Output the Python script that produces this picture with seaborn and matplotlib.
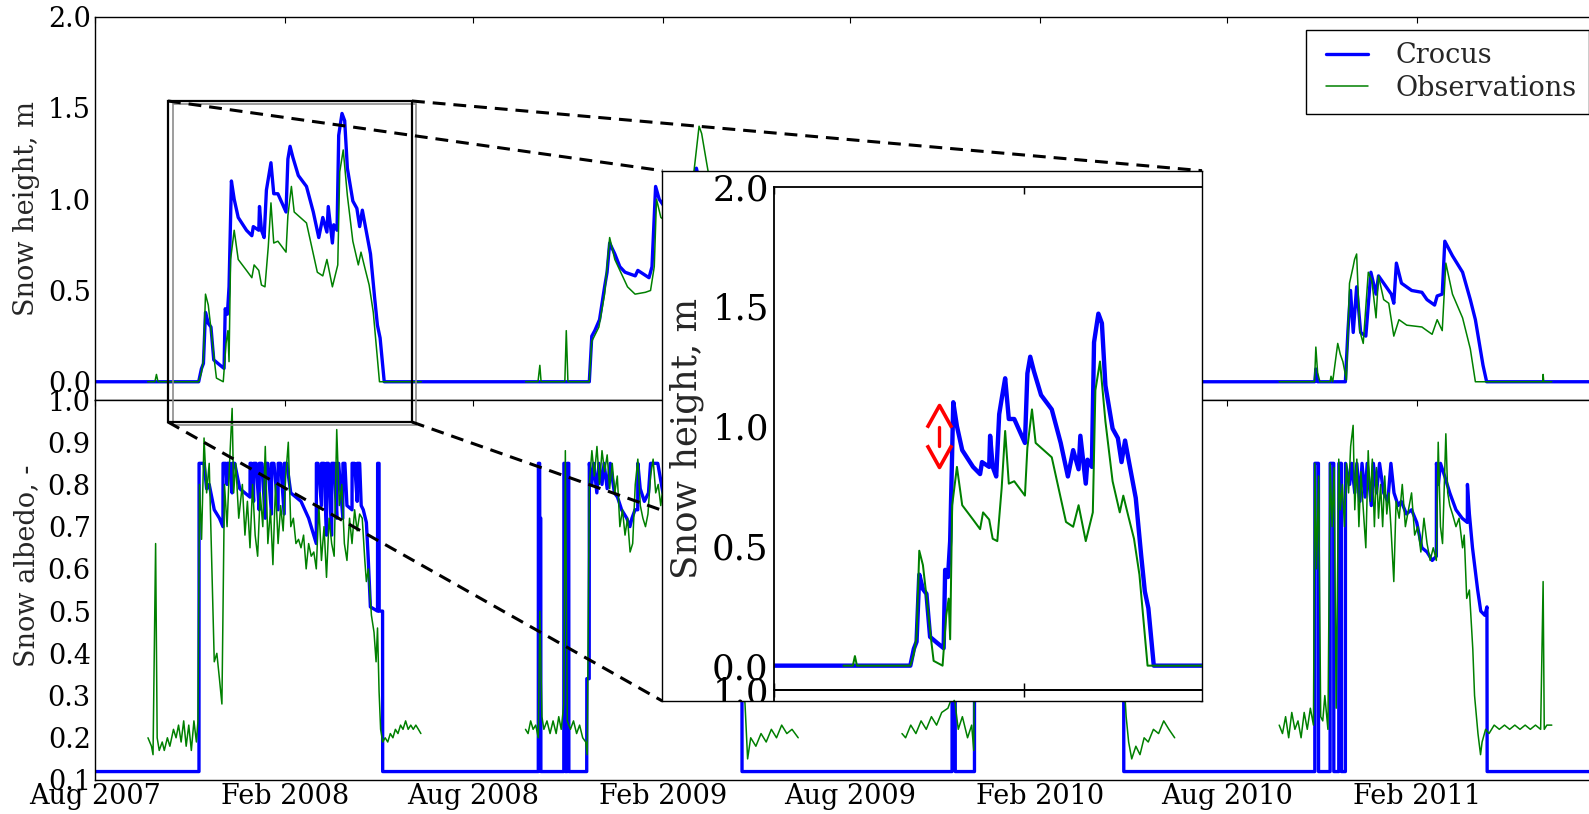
import numpy as np
import pandas as pd
import matplotlib
matplotlib.use("Agg")
import matplotlib.pyplot as plt
import matplotlib.dates as mdates
from matplotlib.lines import Line2D
from matplotlib.patches import Rectangle
from matplotlib.path import Path
from matplotlib.ticker import FixedLocator, FormatStrFormatter
from matplotlib.legend_handler import HandlerLine2D
import seaborn as sns

# ---------------------------------------------------------------- data
START = pd.Timestamp("2007-08-01")   # day 0 of all series
END_DAY = 1460                       # last day shown (31 Jul 2011)

series_names = ["Crocus", "Observations"]

# Crocus snow height (m): (days since 1 Aug 2007, value)
crocus_hs_0708 = [(0, 0), (100.4, 0), (103, 0.07), (105, 0.10), (107, 0.38), (109.7, 0.32), (112.3, 0.30),
                  (115, 0.12), (120.2, 0.095), (125, 0.073), (126.1, 0.40), (128.2, 0.37), (129.8, 0.52),
                  (132.1, 1.10), (134.8, 1.00), (138.7, 0.90), (146.7, 0.83), (151.9, 0.80), (153.3, 0.85),
                  (158.6, 0.83), (159.3, 0.96), (161.2, 0.83), (163.8, 0.79), (166.0, 1.05), (168.3, 1.13),
                  (170.4, 1.20), (173.1, 1.03), (177.1, 1.03), (185.0, 0.93), (186.8, 1.22), (188.9, 1.29),
                  (191.6, 1.23), (196.9, 1.13), (204.8, 1.07), (211.4, 0.93), (216.7, 0.79), (220.6, 0.90),
                  (224.6, 0.82), (225.9, 0.96), (229.9, 0.76), (231.2, 0.86), (234.4, 0.83), (236.0, 1.35),
                  (239.2, 1.47), (241.8, 1.43), (244.4, 1.17), (249.7, 0.99), (253.6, 0.95), (256.3, 0.85),
                  (258.9, 0.94), (261.5, 0.86), (266.8, 0.70), (270.8, 0.46), (273.5, 0.31), (276.1, 0.24),
                  (280.1, 0)]
crocus_hs_0809 = [(478.7, 0), (481.1, 0.25), (484, 0.28), (488.6, 0.34), (493.5, 0.52), (495.9, 0.60),
                  (498.4, 0.76), (503.4, 0.70), (508.3, 0.63), (513.3, 0.60), (523.2, 0.58), (525.7, 0.61),
                  (536.5, 0.57), (539.4, 0.63), (542.9, 1.07), (546.4, 1.00), (555, 0.93), (565, 0.96),
                  (572, 0.90), (578, 1.02), (582.4, 1.17), (586, 1.08), (595, 0.96), (605, 0.80), (615, 0.55),
                  (622, 0.25), (626.5, 0)]
crocus_hs_0910 = [(830, 0), (831.5, 0.05), (833, 0), (851.7, 0), (856, 0.30), (862, 0.55), (870, 0.70),
                  (885, 0.65), (900, 0.85), (915, 0.80), (930, 0.95), (945, 0.90), (960, 0.80), (975, 0.60),
                  (988, 0.30), (996.3, 0)]
crocus_hs_1011 = [(1181.3, 0), (1182.3, 0.07), (1184, 0), (1210.9, 0), (1213.4, 0.28), (1215.9, 0.50),
                  (1218.5, 0.27), (1221.8, 0.52), (1225.7, 0.27), (1230.7, 0.25), (1235.6, 0.60), (1240.6, 0.48),
                  (1243.0, 0.58), (1248.0, 0.54), (1255.4, 0.48), (1257.8, 0.43), (1260.3, 0.65), (1265.2, 0.54),
                  (1275.1, 0.50), (1285.0, 0.49), (1289.9, 0.45), (1297.3, 0.42), (1299.8, 0.47), (1304.7, 0.48),
                  (1307.2, 0.77), (1314.6, 0.69), (1324.4, 0.60), (1331.9, 0.45), (1336.8, 0.34), (1344.2, 0.09),
                  (1347.7, 0), (1460, 0)]

# Observed snow height (m), one list per measuring season
obs_hs_0708 = [(51, 0), (58, 0), (59.5, 0.04), (61, 0), (100.4, 0), (103, 0.05), (105, 0.12), (107, 0.48),
               (109.7, 0.42), (112.3, 0.29), (115.5, 0.12), (117.6, 0.02), (124.2, 0), (126.9, 0.21),
               (128.7, 0.28), (129.8, 0.11), (131.3, 0.67), (134.8, 0.83), (138.7, 0.67), (146.7, 0.61),
               (151.9, 0.57), (154.1, 0.64), (158.6, 0.61), (161.2, 0.53), (164.6, 0.52), (167.8, 0.74),
               (170.4, 0.98), (173.1, 0.76), (177.1, 0.77), (185.0, 0.71), (186.8, 0.91), (190.2, 1.07),
               (192.9, 0.93), (204.8, 0.87), (215.3, 0.60), (220.6, 0.58), (224.6, 0.67), (229.9, 0.52),
               (232.5, 0.58), (235.1, 0.64), (237.0, 1.15), (240.4, 1.27), (244.4, 1.02), (249.7, 0.77),
               (255.0, 0.64), (257.6, 0.71), (261.5, 0.62), (265.5, 0.53), (269.5, 0.38), (275.5, 0), (316, 0)]
obs_hs_0809 = [(417, 0), (429, 0), (430.8, 0.09), (432, 0), (455, 0), (456.4, 0.28), (458, 0), (478.7, 0),
               (481, 0.22), (488, 0.30), (493.5, 0.48), (498.4, 0.79), (503.4, 0.67), (515.7, 0.52), (523, 0.48),
               (533, 0.49), (538, 0.50), (541.6, 0.63), (543.8, 1.00), (548, 0.90), (560, 0.85), (570, 0.90),
               (580, 1.15), (585, 1.40), (587.5, 1.36), (592.3, 1.20), (600, 0.95), (610, 0.70), (618, 0.40),
               (624, 0.10), (627, 0), (681, 0)]
obs_hs_0910 = [(781.5, 0), (830, 0), (831, 0.04), (833, 0), (851.7, 0), (856, 0.25), (862, 0.45), (870, 0.55),
               (885, 0.50), (900, 0.70), (915, 0.62), (930, 0.75), (945, 0.68), (960, 0.60), (975, 0.40),
               (985, 0.15), (992, 0), (1045.6, 0)]
obs_hs_1011 = [(1146.8, 0), (1181, 0), (1182.3, 0.19), (1184, 0.05), (1186.2, 0), (1196.1, 0), (1197, 0.03),
               (1198.6, 0), (1203.5, 0.21), (1206, 0.15), (1208.5, 0.11), (1211.9, 0.01), (1214.9, 0.54),
               (1218.4, 0.63), (1219.8, 0.67), (1221.8, 0.70), (1224.8, 0.28), (1228.2, 0.21), (1233.1, 0.60),
               (1236.6, 0.55), (1240.6, 0.35), (1243, 0.58), (1248, 0.45), (1252.9, 0.43), (1257.8, 0.25),
               (1262.8, 0.34), (1270.3, 0.31), (1285, 0.30), (1289.9, 0.28), (1294.9, 0.26), (1299.8, 0.34),
               (1304.7, 0.28), (1308.2, 0.65), (1314.6, 0.48), (1324.4, 0.35), (1331.9, 0.18), (1336.8, 0),
               (1402, 0), (1402.4, 0.04), (1403, 0), (1410.8, 0)]

# Crocus snow albedo (-)
crocus_alb_0708 = [(0, 0.12), (100.7, 0.12), (100.8, 0.85), (105.6, 0.85), (108.1, 0.79), (110.6, 0.80),
                   (115.5, 0.74), (120.5, 0.72), (123.9, 0.70), (124.0, 0.85), (126.5, 0.85), (127.9, 0.80),
                   (128.0, 0.85), (130.3, 0.85), (132.8, 0.78), (132.9, 0.85), (135.3, 0.85), (140.2, 0.79),
                   (150.1, 0.77), (150.2, 0.85), (151.6, 0.85), (153.6, 0.76), (153.7, 0.85), (156.0, 0.85),
                   (159.0, 0.74), (159.1, 0.85), (161.5, 0.85), (164.9, 0.72), (165.0, 0.85), (167.4, 0.85),
                   (170.9, 0.73), (171.0, 0.85), (173.3, 0.85), (177.3, 0.74), (177.4, 0.85), (179.8, 0.85),
                   (183.2, 0.73), (183.3, 0.85), (185.7, 0.85), (189.6, 0.78), (199.5, 0.76), (206.9, 0.72),
                   (214.3, 0.66), (214.4, 0.85), (216.0, 0.85), (219.3, 0.75), (219.4, 0.85), (221.8, 0.85),
                   (224.2, 0.68), (224.3, 0.85), (226.0, 0.85), (229.2, 0.68), (229.3, 0.85), (231.6, 0.85),
                   (234.1, 0.72), (234.2, 0.85), (236.0, 0.85), (240.0, 0.72), (240.1, 0.85), (242.0, 0.85),
                   (244.0, 0.75), (248.9, 0.74), (249.0, 0.85), (251.4, 0.85), (253.9, 0.76), (254.0, 0.85),
                   (256.3, 0.85), (257.8, 0.75), (259.8, 0.74), (262.8, 0.71), (264.7, 0.62), (266.7, 0.51),
                   (273.6, 0.50), (273.7, 0.85), (275.1, 0.85), (275.2, 0.50), (278.5, 0.50), (278.6, 0.12)]
crocus_alb_0809 = [(429.3, 0.12), (429.4, 0.85), (430.6, 0.85), (430.7, 0.72), (431.7, 0.72), (431.8, 0.12),
                   (454.0, 0.12), (454.1, 0.85), (455.5, 0.85), (455.6, 0.12), (457.4, 0.12), (457.5, 0.85),
                   (458.8, 0.85), (458.9, 0.12), (476.2, 0.12), (476.3, 0.34), (478.6, 0.34), (478.7, 0.85),
                   (481, 0.80), (483, 0.85), (486, 0.78), (488, 0.85), (491, 0.80), (493, 0.85), (496, 0.79),
                   (499, 0.85), (503, 0.78), (506, 0.77), (510, 0.74), (515, 0.72), (518, 0.70), (520, 0.72),
                   (523, 0.74), (525.6, 0.74), (525.7, 0.85), (528, 0.79), (532, 0.76), (536, 0.78), (538, 0.85),
                   (545, 0.85), (550, 0.78), (560, 0.80), (570, 0.85), (580, 0.78), (590, 0.85), (600, 0.75),
                   (610, 0.70), (620, 0.60), (626.5, 0.50), (626.6, 0.12)]
crocus_alb_0910 = [(830, 0.12), (830.1, 0.85), (833, 0.85), (833.1, 0.12), (851.7, 0.12), (851.8, 0.85),
                   (870, 0.80), (900, 0.85), (930, 0.80), (960, 0.75), (980, 0.65), (996.2, 0.55), (996.3, 0.12)]
crocus_alb_1011 = [(1181.3, 0.12), (1181.4, 0.85), (1184.8, 0.85), (1184.9, 0.12), (1196.1, 0.12),
                   (1196.2, 0.85), (1199.6, 0.85), (1199.7, 0.12), (1204.5, 0.12), (1204.6, 0.85), (1207.0, 0.85),
                   (1207.1, 0.12), (1210.9, 0.12), (1211.0, 0.85), (1215, 0.80), (1217, 0.85), (1220, 0.78),
                   (1222, 0.85), (1225, 0.76), (1227, 0.85), (1230, 0.77), (1232, 0.85), (1236, 0.75),
                   (1238, 0.85), (1241, 0.78), (1244, 0.85), (1248, 0.78), (1252, 0.76), (1255, 0.85),
                   (1258, 0.78), (1262, 0.75), (1265, 0.76), (1270, 0.73), (1275, 0.74), (1280, 0.71),
                   (1285, 0.65), (1290, 0.64), (1295, 0.62), (1299, 0.63), (1299.1, 0.85), (1301, 0.80),
                   (1303, 0.85), (1307, 0.82), (1312, 0.78), (1318, 0.74), (1324, 0.72), (1329, 0.71),
                   (1329.1, 0.80), (1331, 0.73), (1334, 0.65), (1339, 0.55), (1342, 0.50), (1346, 0.49),
                   (1348, 0.51), (1348.2, 0.12), (1460, 0.12)]

# Observed snow albedo (-), one list per measuring season
obs_alb_0708 = [(51.3, 0.20), (54.7, 0.18), (56.2, 0.16), (58.7, 0.66), (60.2, 0.20), (62.2, 0.17), (65.1, 0.19),
                (67.1, 0.17), (70.1, 0.20), (72.5, 0.18), (76.0, 0.22), (78.5, 0.20), (80.9, 0.23), (83.4, 0.19),
                (85.9, 0.24), (88.3, 0.18), (90.8, 0.23), (93.3, 0.17), (95.8, 0.24), (98.2, 0.19), (99.7, 0.24),
                (101.2, 0.80), (103.2, 0.67), (105.6, 0.91), (108.1, 0.78), (110.6, 0.85), (113.1, 0.61),
                (115.5, 0.38), (118.0, 0.40), (120.5, 0.34), (122.9, 0.28), (125.4, 0.80), (127.9, 0.70),
                (130.3, 0.85), (132.8, 0.98), (134.3, 0.78), (136.3, 0.85), (139.2, 0.72), (142.7, 0.80),
                (145.2, 0.68), (147.6, 0.76), (150.1, 0.65), (152.6, 0.80), (155.1, 0.68), (157.5, 0.63),
                (160.0, 0.78), (162.5, 0.70), (164.9, 0.89), (167.4, 0.66), (169.9, 0.74), (172.3, 0.61),
                (174.8, 0.80), (177.3, 0.66), (179.8, 0.75), (182.2, 0.69), (184.7, 0.82), (187.2, 0.90),
                (189.6, 0.70), (192.1, 0.72), (194.6, 0.66), (197.1, 0.67), (199.5, 0.65), (202.0, 0.68),
                (204.5, 0.60), (206.9, 0.66), (209.4, 0.63), (211.9, 0.64), (214.3, 0.60), (216.8, 0.75),
                (219.3, 0.62), (221.8, 0.70), (224.2, 0.58), (226.7, 0.72), (229.2, 0.66), (231.6, 0.63),
                (234.1, 0.93), (236.6, 0.75), (239.0, 0.80), (241.5, 0.66), (244.0, 0.62), (246.5, 0.72),
                (248.9, 0.66), (251.4, 0.74), (253.9, 0.69), (256.3, 0.73), (258.8, 0.72), (261.3, 0.62),
                (262.8, 0.57), (264.7, 0.60), (267.7, 0.49), (270.2, 0.45), (272.2, 0.38), (273.6, 0.46),
                (275.1, 0.31), (276.6, 0.22), (278.6, 0.19), (281.0, 0.20), (283.5, 0.19), (286.0, 0.21),
                (288.5, 0.20), (290.9, 0.22), (293.4, 0.21), (295.9, 0.23), (298.3, 0.22), (300.8, 0.24),
                (303.3, 0.22), (305.8, 0.23), (308.2, 0.22), (310.7, 0.23), (313.2, 0.22), (315.6, 0.21)]
obs_alb_0809 = [(416.9, 0.22), (419.4, 0.21), (421.9, 0.24), (424.3, 0.22), (426.8, 0.23), (429.3, 0.20),
                (430.8, 0.50), (432.8, 0.25), (434.7, 0.22), (437.7, 0.24), (440.7, 0.21), (443.6, 0.24),
                (446.6, 0.21), (449.1, 0.25), (451.5, 0.22), (454.0, 0.28), (455.5, 0.88), (457.4, 0.24),
                (460.4, 0.22), (463.4, 0.24), (466.4, 0.21), (469.3, 0.23), (472.3, 0.20), (475.2, 0.19),
                (476.7, 0.16), (478.7, 0.80), (481.2, 0.88), (483.6, 0.82), (486.1, 0.89), (488.6, 0.80),
                (491.0, 0.88), (493.5, 0.83), (496.0, 0.87), (498.4, 0.79), (500.9, 0.85), (503.4, 0.78),
                (505.8, 0.82), (508.3, 0.70), (510.8, 0.74), (513.3, 0.68), (515.7, 0.72), (518.2, 0.64),
                (520.7, 0.66), (523.2, 0.80), (525.7, 0.86), (528.1, 0.75), (530.6, 0.72), (533.1, 0.70),
                (535.5, 0.73), (538.0, 0.82), (540.5, 0.86), (543.0, 0.78), (545.4, 0.80), (547.9, 0.75),
                (550.3, 0.80), (560, 0.78), (570, 0.82), (580, 0.75), (590, 0.80), (600, 0.70), (610, 0.65),
                (620, 0.55), (626, 0.40), (629.5, 0.28), (632, 0.15), (635, 0.20), (640, 0.18), (645, 0.21),
                (650, 0.19), (655, 0.22), (660, 0.20), (665, 0.23), (670, 0.21), (675, 0.22), (681, 0.20)]
obs_alb_0910 = [(781.5, 0.21), (785, 0.20), (790, 0.23), (795, 0.21), (800, 0.24), (805, 0.22), (810, 0.25),
                (815, 0.23), (820, 0.26), (826, 0.27), (829, 0.29), (830, 0.60), (833, 0.28), (836, 0.22),
                (840, 0.25), (845, 0.20), (849, 0.23), (851, 0.17), (853, 0.80), (870, 0.78), (900, 0.82),
                (930, 0.75), (960, 0.72), (985, 0.60), (995, 0.40), (998.6, 0.25), (1001, 0.19), (1004, 0.15),
                (1008, 0.18), (1012, 0.16), (1016, 0.20), (1020, 0.19), (1025, 0.22), (1030, 0.21),
                (1035, 0.24), (1040, 0.22), (1045.6, 0.20)]
obs_alb_1011 = [(1146.8, 0.23), (1150, 0.21), (1153, 0.25), (1156, 0.20), (1159, 0.26), (1162, 0.22),
                (1165, 0.24), (1168, 0.20), (1171, 0.26), (1174, 0.22), (1177, 0.27), (1180, 0.23),
                (1181.3, 0.85), (1183, 0.60), (1185, 0.82), (1187, 0.25), (1189, 0.24), (1191, 0.30),
                (1194, 0.22), (1196.1, 0.85), (1198, 0.70), (1200, 0.84), (1202, 0.27), (1204.5, 0.86),
                (1206, 0.74), (1208, 0.80), (1210, 0.70), (1212, 0.85), (1214, 0.78), (1216, 0.89),
                (1218.4, 0.94), (1220, 0.74), (1222, 0.86), (1224, 0.70), (1226, 0.83), (1228, 0.75),
                (1230.7, 0.65), (1233, 0.88), (1235, 0.76), (1237, 0.86), (1239, 0.70), (1241, 0.84),
                (1243, 0.72), (1245, 0.80), (1247, 0.70), (1249, 0.82), (1251, 0.73), (1253, 0.78),
                (1255, 0.70), (1257.8, 0.57), (1260, 0.76), (1263, 0.72), (1266, 0.80), (1269, 0.70),
                (1272, 0.74), (1275, 0.78), (1278, 0.68), (1281, 0.70), (1284, 0.64), (1287, 0.72),
                (1290, 0.66), (1293, 0.62), (1296, 0.65), (1299, 0.62), (1300.8, 0.90), (1303, 0.70),
                (1305, 0.66), (1308.2, 0.92), (1310, 0.78), (1312, 0.75), (1314.6, 0.73), (1318, 0.70),
                (1321, 0.72), (1324.4, 0.65), (1326, 0.68), (1328.4, 0.53), (1331, 0.55), (1334.3, 0.41),
                (1336, 0.30), (1339.3, 0.21), (1341.8, 0.16), (1343.3, 0.19), (1346.7, 0.22), (1350, 0.21),
                (1355, 0.23), (1360, 0.22), (1365, 0.23), (1370, 0.22), (1375, 0.23), (1380, 0.22),
                (1385, 0.23), (1390, 0.22), (1395, 0.23), (1400, 0.22), (1402.4, 0.57), (1403.5, 0.22),
                (1406, 0.23), (1410.8, 0.23)]

# axis ticks
xtick_dates = ["2007-08-01", "2008-02-01", "2008-08-01", "2009-02-01",
               "2009-08-01", "2010-02-01", "2010-08-01", "2011-02-01"]
xtick_labels = ["Aug 2007", "Feb 2008", "Aug 2008", "Feb 2009",
                "Aug 2009", "Feb 2010", "Aug 2010", "Feb 2011"]
hs_ticks = [0.0, 0.5, 1.0, 1.5, 2.0]
alb_ticks = [0.1, 0.2, 0.3, 0.4, 0.5, 0.6, 0.7, 0.8, 0.9, 1.0]

# red double arrow in the zoom (day, low value, high value)
arrow_day, arrow_low, arrow_high = 121.5, 0.83, 1.09

# ---------------------------------------------------------------- helpers
def to_df(seasons):
    rows = []
    for seg, pairs in enumerate(seasons):
        for d, v in pairs:
            rows.append((START + pd.Timedelta(days=d), v, seg))
    return pd.DataFrame(rows, columns=["date", "val", "seg"])

crocus_hs = to_df([crocus_hs_0708 + crocus_hs_0809 + crocus_hs_0910 + crocus_hs_1011])
obs_hs = to_df([obs_hs_0708, obs_hs_0809, obs_hs_0910, obs_hs_1011])
crocus_alb = to_df([crocus_alb_0708 + crocus_alb_0809 + crocus_alb_0910 + crocus_alb_1011])
obs_alb = to_df([obs_alb_0708, obs_alb_0809, obs_alb_0910, obs_alb_1011])

BLUE = "#0000ff"
GREEN = "#008000"

sns.set_style("white")
plt.rcParams["font.family"] = ["DejaVu Serif"]
plt.rcParams["axes.linewidth"] = 1.0
plt.rcParams["axes.edgecolor"] = "black"

W, H, DPI = 1589, 814, 100
fig = plt.figure(figsize=(W / DPI, H / DPI), dpi=DPI)
fig.patch.set_facecolor("white")


def rect_px(left, top, right, bottom):
    return [left / W, 1 - bottom / H, (right - left) / W, (bottom - top) / H]


def fpt(x, y):
    return (x / W, 1 - y / H)


def draw_lines(ax, croc, obs, scale):
    sns.lineplot(data=croc, x="date", y="val", units="seg", estimator=None, sort=False,
                 color=BLUE, linewidth=2.4 * scale, ax=ax, legend=False)
    sns.lineplot(data=obs, x="date", y="val", units="seg", estimator=None, sort=False,
                 color=GREEN, linewidth=1.1 * scale, ax=ax, legend=False)
    ax.set_xlabel("")
    ax.set_ylabel("")


def style(ax, fs, scale, pad):
    for s in ax.spines.values():
        s.set_linewidth(1.0 * scale)
        s.set_color("black")
    ax.tick_params(direction="in", length=4 * scale, width=0.8 * scale, top=True, right=True,
                   labelsize=fs, pad=pad, colors="black")


tick_nums = mdates.date2num(pd.to_datetime(xtick_dates))
x0 = mdates.date2num(START)
x1 = mdates.date2num(START + pd.Timedelta(days=END_DAY))

# ---------------------------------------------------------------- main axes
PXD = 1.0326                      # pixels per day in main axes
AXL = 95
AXR = AXL + END_DAY * PXD
FS = 19.5

ax_hs = fig.add_axes(rect_px(AXL, 16.7, AXR, 400))
ax_alb = fig.add_axes(rect_px(AXL, 400, AXR, 780))

draw_lines(ax_hs, crocus_hs, obs_hs, 1.0)
draw_lines(ax_alb, crocus_alb, obs_alb, 1.0)

for ax in (ax_hs, ax_alb):
    ax.set_xlim(x0, x1)
    ax.xaxis.set_major_locator(FixedLocator(tick_nums))
    style(ax, FS, 1.0, 3.0)

ax_hs.set_ylim(-0.1, 2.0)
ax_hs.yaxis.set_major_locator(FixedLocator(hs_ticks))
ax_hs.yaxis.set_major_formatter(FormatStrFormatter("%.1f"))
ax_hs.tick_params(labelbottom=False)
ax_hs.set_ylabel("Snow height, m", fontsize=FS)
ax_hs.yaxis.set_label_coords(-0.0366, 0.5)

ax_alb.set_ylim(0.1, 1.0)
ax_alb.yaxis.set_major_locator(FixedLocator(alb_ticks))
ax_alb.yaxis.set_major_formatter(FormatStrFormatter("%.1f"))
ax_alb.set_xticklabels(xtick_labels)
ax_alb.tick_params(axis="x", pad=2.5)
ax_alb.set_ylabel("Snow albedo, -", fontsize=FS)
ax_alb.yaxis.set_label_coords(-0.0366, 0.565)

handles = [Line2D([], [], color=BLUE, lw=2.4), Line2D([], [], color=GREEN, lw=1.1)]
leg = ax_hs.legend(handles, series_names, loc="upper right", fontsize=FS, frameon=True, fancybox=False,
                   framealpha=1, edgecolor="black", borderaxespad=0.5, handlelength=1.84,
                   handletextpad=1.03, borderpad=0.45, labelspacing=0.2,
                   handler_map={Line2D: HandlerLine2D(xpad=0.29)})
leg.get_frame().set_linewidth(1.0)

# ---------------------------------------------------------------- zoom marker + connectors
fig.add_artist(Rectangle(fpt(173, 425), 243 / W, 321 / H, transform=fig.transFigure,
                         fill=False, edgecolor="#8c8c8c", lw=1.2, zorder=1))
fig.add_artist(Rectangle(fpt(168, 422), 244 / W, 321 / H, transform=fig.transFigure,
                         fill=False, edgecolor="black", lw=1.6, zorder=1.1))

FL, FT, FR, FB = 662.3, 170.7, 1202, 701
for (xa, ya), (xb, yb) in [((168, 101), (FL, FT)), ((412, 101), (FR, FT)),
                           ((168, 422), (FL, FB)), ((412, 422), (FR, FB))]:
    p0, p1 = fpt(xa, ya), fpt(xb, yb)
    fig.add_artist(Line2D([p0[0], p1[0]], [p0[1], p1[1]], transform=fig.transFigure, color="black",
                          lw=2.2, linestyle=(0, (4.2, 2.6)), zorder=2))

# ---------------------------------------------------------------- magnified inset
MAG = (689.6 - 186.7) / (400 - 16.7)
IL, IT, IB = 774.3, 186.7, 689.6
in_days = (FR - IL) / (PXD * MAG)
xi1 = mdates.date2num(START + pd.Timedelta(days=in_days))
FSI = 25.5

ax_frame = fig.add_axes(rect_px(FL, FT, FR, FB), zorder=3)
ax_frame.set_facecolor("white")
ax_frame.set_xticks([])
ax_frame.set_yticks([])
for s in ax_frame.spines.values():
    s.set_linewidth(1.0)
    s.set_color("black")

ax_in = fig.add_axes(rect_px(IL, IT, FR, IB), zorder=4)
ax_in.patch.set_alpha(0)
draw_lines(ax_in, crocus_hs, obs_hs, MAG)
ax_in.set_xlim(x0, xi1)
ax_in.set_ylim(-0.1, 2.0)
ax_in.xaxis.set_major_locator(FixedLocator(tick_nums))
ax_in.yaxis.set_major_locator(FixedLocator(hs_ticks))
ax_in.yaxis.set_major_formatter(FormatStrFormatter("%.1f"))
style(ax_in, FSI, MAG, 4.0)
ax_in.tick_params(labelbottom=False, right=False, bottom=True)
ax_in.spines["right"].set_visible(False)
ax_in.set_ylabel("Snow height, m", fontsize=FSI)
ax_in.yaxis.set_label_coords(-0.165, 0.5)

ax_sl = fig.add_axes(rect_px(IL, IB, FR, FB), zorder=4)
ax_sl.patch.set_alpha(0)
draw_lines(ax_sl, crocus_alb, obs_alb, MAG)
ax_sl.set_xlim(x0, xi1)
ax_sl.set_ylim(1.0 - (FB - IB) / (380 / 0.9 * MAG), 1.0)
ax_sl.xaxis.set_major_locator(FixedLocator(tick_nums))
ax_sl.yaxis.set_major_locator(FixedLocator([alb_ticks[-1]]))
ax_sl.yaxis.set_major_formatter(FormatStrFormatter("%.1f"))
style(ax_sl, FSI, MAG, 4.0)
ax_sl.tick_params(labelbottom=False, bottom=False, right=False, left=False)
ax_sl.spines["right"].set_visible(False)
ax_sl.spines["bottom"].set_visible(False)
for lab in ax_sl.get_yticklabels():
    lab.set_clip_on(True)
    lab.set_clip_box(ax_frame.bbox)

# red double-headed arrow
chev_up = Path([(-1, -1.8), (0, 0), (1, -1.8)], [Path.MOVETO, Path.LINETO, Path.LINETO])
chev_dn = Path([(-1, 1.8), (0, 0), (1, 1.8)], [Path.MOVETO, Path.LINETO, Path.LINETO])
ad = mdates.date2num(START + pd.Timedelta(days=arrow_day))
span = arrow_high - arrow_low
ax_in.plot([ad], [arrow_high], marker=chev_up, ms=32, mfc="none", mec="red", mew=2.6, ls="none", zorder=5)
ax_in.plot([ad], [arrow_low], marker=chev_dn, ms=32, mfc="none", mec="red", mew=2.6, ls="none", zorder=5)
ax_in.plot([ad, ad], [arrow_low + 0.33 * span, arrow_high - 0.36 * span], color="red", lw=2.4, zorder=5)

fig.savefig("out.png", dpi=DPI, facecolor="white")
